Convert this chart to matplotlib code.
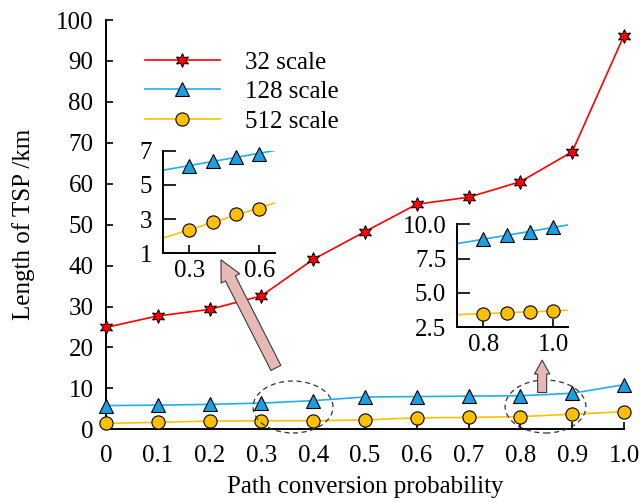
import numpy as np
import matplotlib
matplotlib.use("Agg")
import matplotlib.pyplot as plt
from matplotlib.patches import Ellipse, FancyArrowPatch, ArrowStyle

plt.rcParams["font.family"] = ["Liberation Serif", "DejaVu Serif"]
plt.rcParams["font.size"] = 18

# Main series
prob = [0.0, 0.1, 0.2, 0.3, 0.4, 0.5, 0.6, 0.7, 0.8, 0.9, 1.0]
prob_labels = ["0", "0.1", "0.2", "0.3", "0.4", "0.5", "0.6", "0.7", "0.8", "0.9", "1.0"]
tsp_32 = [24.9, 27.7, 29.3, 32.6, 41.5, 48.3, 55.0, 56.7, 60.5, 67.8, 96.2]
tsp_128 = [5.8, 5.9, 6.1, 6.4, 7.0, 7.9, 8.0, 8.1, 8.2, 8.8, 10.9]
tsp_512 = [1.45, 1.7, 2.0, 2.1, 2.1, 2.3, 2.8, 2.9, 3.1, 3.7, 4.3]
y_ticks = [0, 10, 20, 30, 40, 50, 60, 70, 80, 90, 100]

# Detail views
zoom_a_x = [0.3, 0.4, 0.5, 0.6]
zoom_a_128 = [6.10, 6.40, 6.64, 6.82]
zoom_a_512 = [2.34, 2.83, 3.28, 3.62]
zoom_a_xticks = [0.3, 0.6]
zoom_a_xlabels = ["0.3", "0.6"]
zoom_a_yticks = [1, 3, 5, 7]
zoom_a_ylabels = ["1", "3", "5", "7"]

zoom_b_x = [0.8, 0.8667, 0.9333, 1.0]
zoom_b_128 = [8.90, 9.22, 9.47, 9.77]
zoom_b_512 = [3.50, 3.54, 3.64, 3.69]
zoom_b_xticks = [0.8, 1.0]
zoom_b_xlabels = ["0.8", "1.0"]
zoom_b_yticks = [2.5, 5.0, 7.5, 10.0]
zoom_b_ylabels = ["2.5", "5.0", "7.5", "10.0"]

RED = "#FF0000"
BLUE_LINE = "#1FB0EA"
BLUE_FILL = "#1AA0E0"
ORANGE_LINE = "#FFC000"
ORANGE_FILL = "#FFC000"

star = dict(marker=(6, 1, 0), markersize=10, markerfacecolor=RED,
            markeredgecolor="black", markeredgewidth=0.7)
tri = dict(marker="^", markersize=9.5, markerfacecolor=BLUE_FILL,
           markeredgecolor="black", markeredgewidth=0.8)
circ = dict(marker="o", markersize=9.5, markerfacecolor=ORANGE_FILL,
            markeredgecolor="black", markeredgewidth=0.8)

fig = plt.figure(figsize=(6.4, 5.03), dpi=100)
ax = fig.add_axes([0.1656, 0.1465, 0.8094, 0.8137])

ax.plot(prob, tsp_32, color=RED, lw=1.2, label="32 scale", clip_on=False, zorder=5, **star)
ax.plot(prob, tsp_128, color=BLUE_LINE, lw=1.2, label="128 scale", clip_on=False, zorder=4, **tri)
ax.plot(prob, tsp_512, color=ORANGE_LINE, lw=1.2, label="512 scale", clip_on=False, zorder=4, **circ)

ax.set_xlim(0, 1)
ax.set_ylim(0, 100)
ax.set_xticks(prob)
ax.set_xticklabels(prob_labels)
ax.set_yticks(y_ticks)
for s in ["top", "right"]:
    ax.spines[s].set_visible(False)
for s in ["left", "bottom"]:
    ax.spines[s].set_linewidth(1.4)
ax.tick_params(direction="in", length=5, width=1.2, labelsize=18)
ax.tick_params(axis="x", pad=11)
ax.tick_params(axis="y", pad=9)
ax.set_xlabel("Path conversion probability", fontsize=18, labelpad=7)
ax.set_ylabel("Length of TSP /km", fontsize=18, labelpad=15)

leg = ax.legend(loc="upper left", bbox_to_anchor=(0.075, 0.924), frameon=False,
                fontsize=18, handlelength=3.0, handletextpad=1.0,
                labelspacing=0.28, borderpad=0, borderaxespad=0)

# Dashed outlines around the magnified regions
for cx, cy, w, h in [(0.361, 5.45, 0.1544, 12.7), (0.8485, 5.57, 0.156, 12.95)]:
    ax.add_patch(Ellipse((cx, cy), w, h, fill=False, ls=(0, (4, 3)), lw=0.9,
                         edgecolor="#333333", clip_on=False, zorder=6))

# Pointer arrows
arrow_style = dict(facecolor="#E6B9B4", edgecolor="#3a3a3a", lw=0.8,
                   shrinkA=0, shrinkB=0, mutation_scale=1, zorder=7, clip_on=False)
ax.add_patch(FancyArrowPatch((0.328, 15.0), (0.222, 41.4),
                             arrowstyle=ArrowStyle.Simple(head_length=15, head_width=15, tail_width=8),
                             **arrow_style))
ax.add_patch(FancyArrowPatch((0.842, 9.0), (0.842, 16.9),
                             arrowstyle=ArrowStyle.Simple(head_length=10, head_width=11, tail_width=6.5),
                             **arrow_style))


def detail(rect, xs, y128, y512, xlim, ylim, xticks, xlabels, yticks, ylabels):
    ins = fig.add_axes(rect)
    ins.set_xlim(*xlim)
    ins.set_ylim(*ylim)
    xx = np.array(xlim)
    for ys, col in [(y128, BLUE_LINE), (y512, ORANGE_LINE)]:
        k, b = np.polyfit(xs, ys, 1)
        ins.plot(xx, k * xx + b, color=col, lw=1.2, zorder=2)
    ins.plot(xs, y128, ls="none", zorder=3, clip_on=False, **tri)
    ins.plot(xs, y512, ls="none", zorder=3, clip_on=False, **circ)
    ins.set_xticks(xticks)
    ins.set_xticklabels(xlabels)
    ins.set_yticks(yticks)
    ins.set_yticklabels(ylabels)
    for s in ["top", "right"]:
        ins.spines[s].set_visible(False)
    for s in ["left", "bottom"]:
        ins.spines[s].set_linewidth(1.4)
    ins.tick_params(axis="y", direction="in", length=9, width=1.2, labelsize=18, pad=8)
    ins.tick_params(axis="x", direction="in", length=6, width=1.2, labelsize=18, pad=5)
    ins.patch.set_alpha(0)
    return ins


detail([0.2552, 0.4964, 0.1745, 0.204], zoom_a_x, zoom_a_128, zoom_a_512,
       (0.189, 0.667), (1, 7), zoom_a_xticks, zoom_a_xlabels, zoom_a_yticks, zoom_a_ylabels)
detail([0.7145, 0.3493, 0.1734, 0.2048], zoom_b_x, zoom_b_128, zoom_b_512,
       (0.726, 1.043), (2.5, 10), zoom_b_xticks, zoom_b_xlabels, zoom_b_yticks, zoom_b_ylabels)

fig.savefig("out.png", dpi=100)
